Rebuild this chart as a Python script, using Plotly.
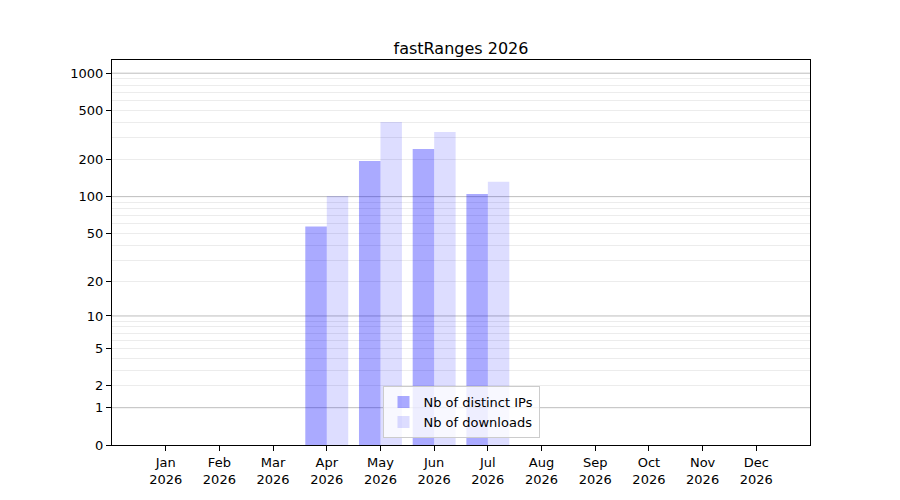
import numpy as np
import plotly.graph_objects as go

# monthly stats for fastRanges (symlog-ish y axis: log10(1 + n))
months = ["Jan", "Feb", "Mar", "Apr", "May", "Jun", "Jul", "Aug", "Sep", "Oct", "Nov", "Dec"]
year = "2026"
distinct_ips = [0, 0, 0, 57, 195, 244, 105, 0, 0, 0, 0, 0]
downloads = [0, 0, 0, 101, 404, 335, 132, 0, 0, 0, 0, 0]

y_ticks = [0, 1, 2, 5, 10, 20, 50, 100, 200, 500, 1000]
major_grid = [1, 10, 100, 1000]
minor_grid = [2, 3, 4, 5, 6, 7, 8, 9, 20, 30, 40, 50, 60, 70, 80, 90,
              200, 300, 400, 500, 600, 700, 800, 900]


def tr(v):
    return np.log10(1 + np.asarray(v, dtype=float))


x = list(range(len(months)))
font = "DejaVu Sans"

fig = go.Figure()
fig.add_trace(go.Bar(x=x, y=tr(distinct_ips), customdata=distinct_ips, name="Nb of distinct IPs",
                     marker=dict(color="rgba(0,0,255,0.333)", line=dict(width=0)),
                     hovertemplate="%{customdata}<extra>Nb of distinct IPs</extra>"))
fig.add_trace(go.Bar(x=x, y=tr(downloads), customdata=downloads, name="Nb of downloads",
                     marker=dict(color="rgba(0,0,255,0.133)", line=dict(width=0)),
                     hovertemplate="%{customdata}<extra>Nb of downloads</extra>"))

# darker gridlines on the decades
for v in major_grid:
    fig.add_hline(y=float(tr(v)), line=dict(color="#bdbdbd", width=1), layer="below")

# the page body has an 8px margin, so the margins are shifted by that
fig.update_layout(
    width=900, height=500,
    paper_bgcolor="white", plot_bgcolor="white",
    margin=dict(l=104, r=98, t=52, b=63),
    barmode="group", bargap=0.2, bargroupgap=0,
    font=dict(family=font, size=13, color="black"),
    title=dict(text="fastRanges " + year, x=0.5, xref="paper", xanchor="center",
               y=1, yref="paper", yanchor="bottom", pad=dict(b=6),
               font=dict(family=font, size=16, color="black")),
    legend=dict(x=0.5, y=0.018, xanchor="center", yanchor="bottom",
                bgcolor="rgba(255,255,255,0.8)", bordercolor="#cccccc", borderwidth=1,
                font=dict(family=font, size=13)),
    showlegend=True,
)
fig.update_xaxes(
    range=[-1, 12], tickmode="array", tickvals=x,
    ticktext=[m + "<br>" + year for m in months],
    showgrid=False, zeroline=False,
    showline=True, linecolor="black", linewidth=1, mirror=True,
    ticks="outside", ticklen=5, tickcolor="black",
)
fig.update_yaxes(
    range=[0, 3.107], tickmode="array", tickvals=tr(y_ticks), ticktext=[str(v) for v in y_ticks],
    showgrid=False, zeroline=False,
    showline=True, linecolor="black", linewidth=1, mirror=True,
    ticks="outside", ticklen=5, tickcolor="black",
    minor=dict(tickmode="array", tickvals=tr(minor_grid), showgrid=True,
               gridcolor="#ececec", gridwidth=1, ticks=""),
)

fig.write_html("out.html")
